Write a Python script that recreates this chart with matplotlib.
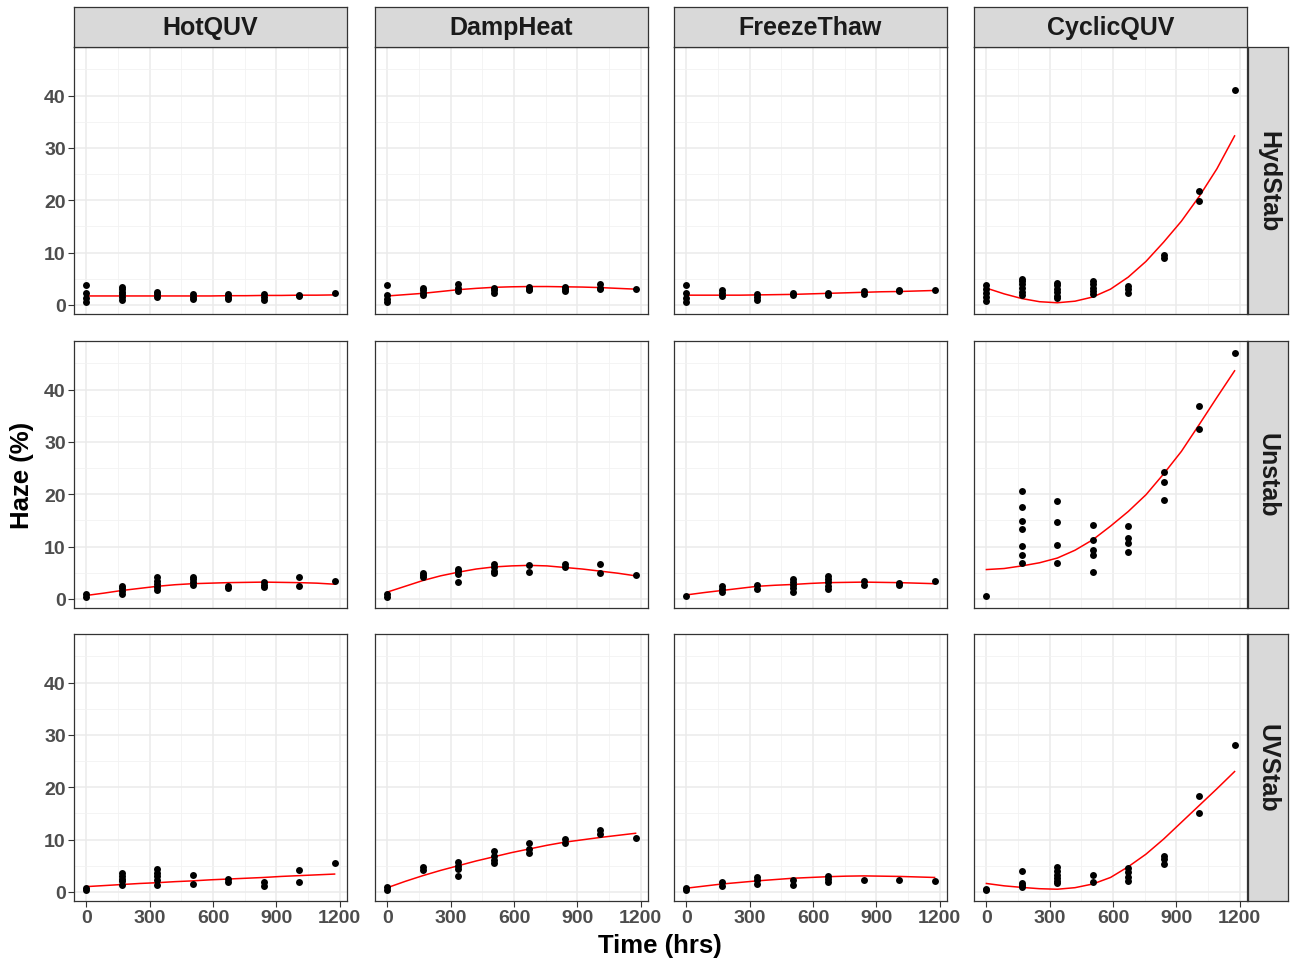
import numpy as np
import matplotlib.pyplot as plt

plt.rcParams['font.family'] = ['Liberation Sans', 'DejaVu Sans']

# exposure times (hrs) and haze readings (%) per time
times = [0, 168, 336, 504, 672, 840, 1008, 1176]
tests = ['HotQUV', 'DampHeat', 'FreezeThaw', 'CyclicQUV']
stabs = ['HydStab', 'Unstab', 'UVStab']

hotquv_hydstab = [[3.8, 2.2, 1.3, 0.6], [3.5, 3.0, 2.5, 2.0, 1.5, 1.0], [2.5, 2.0, 1.5],
                  [2.0, 1.5, 1.2], [2.0, 1.5, 1.2], [2.0, 1.5, 1.0], [1.9, 1.7], [2.2]]
damp_hydstab = [[3.8, 1.8, 1.2, 0.5], [3.3, 2.8, 2.3, 1.9], [3.9, 3.3, 2.7], [3.3, 2.8, 2.2],
                [3.4, 3.0, 2.8], [3.5, 3.0, 2.7], [3.9, 3.2, 3.0], [3.0]]
freeze_hydstab = [[3.8, 2.2, 1.3, 0.6], [2.8, 2.2, 1.6], [2.0, 1.5, 1.0], [2.2, 1.8],
                  [2.3, 1.8], [2.6, 2.0], [2.8, 2.6], [2.8]]
cyclic_hydstab = [[3.8, 3.0, 2.3, 1.5, 0.8], [5.0, 4.5, 4.0, 3.2, 2.5, 1.8],
                  [4.2, 3.7, 3.0, 2.4, 1.7, 1.3], [4.5, 3.9, 3.3, 2.6, 2.0], [3.6, 3.0, 2.3],
                  [9.5, 9.0], [21.8, 19.9], [41.1]]

hotquv_unstab = [[0.9, 0.4], [2.5, 2.0, 1.5, 1.0], [4.2, 3.5, 2.8, 2.2, 1.6], [4.2, 3.7, 3.2, 2.6],
                 [2.5, 2.1], [3.3, 2.6, 2.3], [4.1, 2.4], [3.5]]
damp_unstab = [[1.0, 0.4], [5.0, 4.5, 4.2], [5.8, 5.3, 4.8, 3.2], [6.6, 6.0, 5.4, 4.9],
               [6.4, 5.2], [6.7, 6.0], [6.7, 5.0], [4.5]]
freeze_unstab = [[0.6], [2.5, 1.9, 1.3], [2.6, 1.8], [3.8, 3.2, 2.6, 2.0, 1.4],
                 [4.4, 3.8, 3.2, 2.4, 1.8], [3.5, 2.7], [3.1, 2.6], [3.5]]
cyclic_unstab = [[0.6], [20.6, 17.6, 14.8, 13.3, 10.1, 8.3, 6.9], [18.8, 14.7, 10.2, 6.9],
                 [14.2, 11.3, 9.4, 8.3, 5.1], [14.0, 11.7, 10.7, 9.0], [24.2, 22.4, 18.9],
                 [36.8, 32.5], [47.1]]

hotquv_uvstab = [[0.8, 0.3], [3.6, 3.0, 2.5, 2.0, 1.4], [4.3, 3.6, 3.0, 2.3, 1.4], [3.3, 1.5],
                 [2.5, 1.8], [1.8, 1.2], [4.2, 1.9], [5.5]]
damp_uvstab = [[1.0, 0.4], [4.8, 4.2], [5.8, 5.0, 4.3, 3.0], [7.9, 6.8, 6.0, 5.5],
               [9.3, 8.2, 7.5], [10.1, 9.4], [11.9, 11.0], [10.3]]
freeze_uvstab = [[0.8, 0.4], [1.9, 1.1], [2.9, 2.2, 1.5], [2.2, 1.4], [3.0, 2.4, 1.8],
                 [2.3], [2.3], [2.1]]
cyclic_uvstab = [[0.6, 0.4], [3.9, 1.7, 1.3, 0.9], [4.8, 4.0, 3.3, 2.6, 2.0, 1.6], [3.3, 1.8],
                 [4.5, 3.7, 2.9, 2.0], [6.9, 6.2, 5.4], [18.4, 15.0], [28.0]]

# red fitted curves, every 84 hrs
fit_times = [0, 84, 168, 252, 336, 420, 504, 588, 672, 756, 840, 924, 1008, 1092, 1176]
fit_hotquv_hydstab = [1.7, 1.7, 1.7, 1.7, 1.7, 1.7, 1.7, 1.7, 1.75, 1.75, 1.8, 1.8, 1.85, 1.85, 1.9]
fit_damp_hydstab = [1.7, 1.95, 2.2, 2.55, 2.9, 3.15, 3.35, 3.45, 3.5, 3.5, 3.45, 3.4, 3.3, 3.15, 3.0]
fit_freeze_hydstab = [1.85, 1.85, 1.85, 1.85, 1.9, 1.95, 2.0, 2.1, 2.2, 2.3, 2.4, 2.5, 2.55, 2.65, 2.75]
fit_cyclic_hydstab = [3.2, 2.1, 1.2, 0.6, 0.4, 0.7, 1.5, 3.0, 5.3, 8.3, 12.0, 16.0, 20.7, 26.0, 32.3]
fit_hotquv_unstab = [0.65, 1.1, 1.6, 2.0, 2.4, 2.7, 2.9, 3.0, 3.1, 3.15, 3.2, 3.15, 3.1, 3.0, 2.8]
fit_damp_unstab = [1.3, 2.4, 3.5, 4.4, 5.1, 5.7, 6.1, 6.3, 6.4, 6.3, 6.0, 5.7, 5.3, 4.9, 4.4]
fit_freeze_unstab = [0.75, 1.2, 1.6, 2.0, 2.4, 2.6, 2.75, 2.95, 3.1, 3.15, 3.2, 3.15, 3.1, 3.0, 2.9]
fit_cyclic_unstab = [5.6, 5.8, 6.3, 6.9, 7.8, 9.3, 11.3, 13.9, 16.7, 19.9, 23.9, 28.2, 33.3, 38.5, 43.6]
fit_hotquv_uvstab = [1.0, 1.2, 1.4, 1.6, 1.75, 1.95, 2.1, 2.3, 2.45, 2.6, 2.75, 2.95, 3.1, 3.25, 3.4]
fit_damp_uvstab = [0.8, 2.0, 3.1, 4.1, 5.0, 5.9, 6.7, 7.5, 8.2, 8.9, 9.5, 9.95, 10.4, 10.8, 11.2]
fit_freeze_uvstab = [0.7, 1.1, 1.5, 1.8, 2.1, 2.35, 2.6, 2.75, 2.9, 3.0, 3.05, 3.0, 2.95, 2.85, 2.75]
fit_cyclic_uvstab = [1.6, 1.15, 0.85, 0.6, 0.5, 0.8, 1.5, 2.75, 4.8, 7.2, 10.1, 13.3, 16.5, 19.7, 23.0]

panels = [
    [hotquv_hydstab, damp_hydstab, freeze_hydstab, cyclic_hydstab],
    [hotquv_unstab, damp_unstab, freeze_unstab, cyclic_unstab],
    [hotquv_uvstab, damp_uvstab, freeze_uvstab, cyclic_uvstab],
]
fits = [
    [fit_hotquv_hydstab, fit_damp_hydstab, fit_freeze_hydstab, fit_cyclic_hydstab],
    [fit_hotquv_unstab, fit_damp_unstab, fit_freeze_unstab, fit_cyclic_unstab],
    [fit_hotquv_uvstab, fit_damp_uvstab, fit_freeze_uvstab, fit_cyclic_uvstab],
]

W, H = 1291, 962
fig = plt.figure(figsize=(W / 100, H / 100), dpi=100)

col_x = [74, 375, 674, 974]
pw = 273
row_y = [48, 342, 635]
ph = 267
edge = '#333333'


def strip(rect, label, rot):
    sax = fig.add_axes(rect)
    sax.set_facecolor('#D9D9D9')
    sax.set_xticks([])
    sax.set_yticks([])
    for s in sax.spines.values():
        s.set_color(edge)
        s.set_linewidth(0.9)
    sax.text(0.5, 0.5, label, ha='center', va='center', fontsize=18, fontweight='bold',
             color='#1A1A1A', rotation=rot, transform=sax.transAxes)


for r in range(3):
    for c in range(4):
        ax = fig.add_axes([col_x[c] / W, 1 - (row_y[r] + ph) / H, pw / W, ph / H])
        x = np.concatenate([[t] * len(v) for t, v in zip(times, panels[r][c])])
        y = np.concatenate(panels[r][c])
        ax.plot(fit_times, fits[r][c], color='red', lw=1.1, zorder=3)
        ax.scatter(x, y, s=25, color='black', linewidths=0, zorder=4)
        ax.set_xlim(-58.8, 1234.8)
        ax.set_ylim(-1.75, 49.3)
        ax.set_xticks([0, 300, 600, 900, 1200])
        ax.set_xticks([150, 450, 750, 1050], minor=True)
        ax.set_yticks([0, 10, 20, 30, 40])
        ax.set_yticks([5, 15, 25, 35, 45], minor=True)
        ax.grid(which='major', color='#EBEBEB', lw=1.1, zorder=0)
        ax.grid(which='minor', color='#F2F2F2', lw=0.6, zorder=0)
        ax.set_axisbelow(True)
        for s in ax.spines.values():
            s.set_color(edge)
            s.set_linewidth(0.9)
        ax.tick_params(which='minor', length=0)
        ax.tick_params(which='major', length=4, width=0.8, color=edge, labelcolor='#4D4D4D',
                       labelsize=14, pad=2)
        for lab in ax.get_xticklabels() + ax.get_yticklabels():
            lab.set_fontweight('bold')
        if c != 0:
            ax.tick_params(axis='y', left=False, labelleft=False)
        if r != 2:
            ax.tick_params(axis='x', bottom=False, labelbottom=False)

        if r == 0:
            strip([col_x[c] / W, 1 - 48 / H, pw / W, 40 / H], tests[c], 0)
        if c == 3:
            strip([1248 / W, 1 - (row_y[r] + ph) / H, 40 / W, ph / H], stabs[r], -90)

fig.text(660 / W, 1 - 946 / H, 'Time (hrs)', ha='center', va='center', fontsize=18.5,
         fontweight='bold', color='black')
fig.text(22 / W, 1 - 475 / H, 'Haze (%)', ha='center', va='center', fontsize=18.5,
         fontweight='bold', color='black', rotation=90)

fig.savefig('out.png', dpi=100, facecolor='white')
